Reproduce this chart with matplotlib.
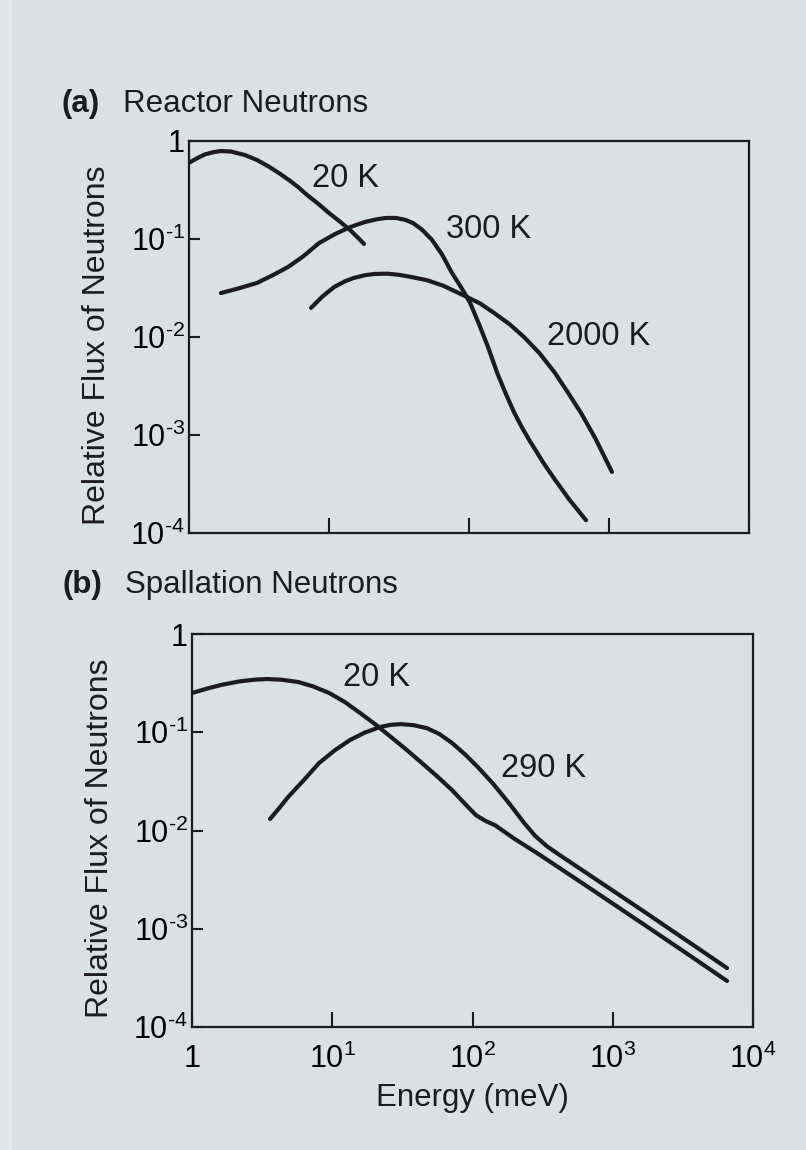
#!/usr/bin/env python3
# Relative neutron flux vs energy: (a) reactor, (b) spallation sources

import numpy as np
import matplotlib
matplotlib.use('Agg')
import matplotlib.pyplot as plt
from matplotlib.patches import Rectangle

plt.rcParams['font.family'] = ['Liberation Sans', 'DejaVu Sans']
plt.rcParams['mathtext.fontset'] = 'custom'
plt.rcParams['mathtext.rm'] = 'Liberation Sans'
plt.rcParams['mathtext.it'] = 'Liberation Sans:italic'
plt.rcParams['mathtext.bf'] = 'Liberation Sans:bold'

#==============================================================================
# data (energy in meV, relative flux)

# (a) reactor neutrons
a_20K_E = [1.0, 1.15, 1.3, 1.5, 1.69, 2.0, 2.5, 3.06, 3.7, 4.5, 5.3, 6.0,
           7.0, 8.5, 10, 12, 14.1, 16, 17.8]
a_20K_F = [0.60, 0.67, 0.73, 0.77, 0.79, 0.78, 0.72, 0.64, 0.55, 0.46, 0.39,
           0.34, 0.28, 0.225, 0.184, 0.150, 0.124, 0.104, 0.089]

a_300K_E = [1.69, 2.2, 3.06, 4.0, 5.1, 6.5, 8.5, 11, 14.1, 18, 22, 25.5, 30,
            35, 40, 46, 54.4, 64, 75.6, 88, 101.6, 118, 136.7, 160, 184, 210,
            240, 273, 340, 411, 520, 685]
a_300K_F = [0.0281, 0.031, 0.0356, 0.043, 0.0518, 0.066, 0.091, 0.112, 0.132,
            0.149, 0.159, 0.164, 0.164, 0.157, 0.145, 0.125, 0.098, 0.070,
            0.045, 0.032, 0.0225, 0.0135, 0.0079, 0.0042, 0.0026, 0.0017,
            0.00118, 0.00086, 0.00052, 0.00035, 0.00022, 0.000135]

a_2000K_E = [7.44, 9, 10.9, 13, 15, 18, 21.3, 26, 32, 38.5, 50, 65, 90.6, 120,
             151, 195, 247, 320, 411, 510, 631, 800, 1050]
a_2000K_F = [0.0198, 0.026, 0.0324, 0.037, 0.040, 0.0427, 0.044, 0.0443,
             0.043, 0.041, 0.038, 0.0335, 0.0268, 0.022, 0.0176, 0.0135,
             0.0100, 0.0068, 0.0043, 0.0027, 0.00168, 0.00092, 0.00042]

# (b) spallation neutrons
b_20K_E = [1.0, 1.3, 1.61, 2.2, 2.8, 3.43, 4.3, 5.7, 7.3, 9.5, 12.3, 15.8,
           20.5, 26.2, 34, 43.6, 56, 71.4, 88, 106, 124, 145, 200, 303, 700,
           1644, 3500, 6530]
b_20K_F = [0.251, 0.28, 0.303, 0.33, 0.343, 0.348, 0.343, 0.325, 0.293,
           0.251, 0.203, 0.157, 0.119, 0.0895, 0.066, 0.0486, 0.0356, 0.0258,
           0.0188, 0.0143, 0.0125, 0.0113, 0.0082, 0.00563, 0.00254, 0.00112,
           0.00054, 0.000294]

b_290K_E = [3.6, 4.2, 4.84, 6.2, 8.05, 10.5, 13.4, 17, 21.9, 26, 30.9, 38,
            47.4, 58, 71.4, 88, 109, 140, 182, 235, 280, 340, 420, 700, 1644,
            3500, 6530]
b_290K_F = [0.0131, 0.017, 0.0219, 0.032, 0.0486, 0.066, 0.0834, 0.099, 0.113,
            0.119, 0.121, 0.118, 0.110, 0.096, 0.0778, 0.060, 0.0443, 0.030,
            0.019, 0.0118, 0.0088, 0.0069, 0.0056, 0.00344, 0.00152, 0.00073,
            0.000398]

xticks = [1, 10, 100, 1000, 10000]
xticklabels = ['1', r'$\mathregular{10^{1}}$', r'$\mathregular{10^{2}}$',
               r'$\mathregular{10^{3}}$', r'$\mathregular{10^{4}}$']
yticks = [1e-4, 1e-3, 1e-2, 1e-1, 1]
yticklabels = [r'$\mathregular{10^{\text{-}4}}$', r'$\mathregular{10^{\text{-}3}}$',
               r'$\mathregular{10^{\text{-}2}}$', r'$\mathregular{10^{\text{-}1}}$', '1']

#==============================================================================
bg = '#d9e1e3'
ink = '#1c1c1e'
W, H = 806, 1150

fig = plt.figure(figsize=(W / 100, H / 100), dpi=100, facecolor=bg)
fig.patches.append(Rectangle((0, 0), 12 / W, 1, transform=fig.transFigure,
                             facecolor='#e2e8e9', edgecolor='none', zorder=0))


def setup(ax, show_xlabels):
    ax.set_facecolor(bg)
    ax.set_xscale('log')
    ax.set_yscale('log')
    ax.set_xlim(1, 1e4)
    ax.set_ylim(1e-4, 1)
    ax.minorticks_off()
    ax.set_xticks(xticks)
    ax.set_yticks(yticks)
    ax.set_yticklabels(yticklabels)
    if show_xlabels:
        ax.set_xticklabels(xticklabels)
    else:
        ax.set_xticklabels([])
    ax.tick_params(axis='x', direction='in', length=11, width=1.5,
                   color=ink, labelsize=22, pad=12, top=False)
    ax.tick_params(axis='y', direction='in', length=8, width=1.5,
                   color=ink, labelsize=22, pad=3, right=False)
    for s in ax.spines.values():
        s.set_linewidth(1.6)
        s.set_color(ink)
    ax.set_ylabel('Relative Flux of Neutrons', fontsize=23, color=ink)
    ax.yaxis.set_label_coords(-0.138, 0.48)


lw = 3.0
kw = dict(color=ink, linewidth=lw, solid_capstyle='round', solid_joinstyle='round')

# (a) Reactor Neutrons
ax1 = fig.add_axes([189 / W, 1 - 533 / H, 560 / W, 392 / H])
setup(ax1, False)
ax1.plot(a_20K_E, a_20K_F, **kw)
ax1.plot(a_300K_E, a_300K_F, **kw)
ax1.plot(a_2000K_E, a_2000K_F, **kw)
ax1.text(7.6, 0.41, '20 K', fontsize=23.5, color=ink, va='center')
ax1.text(68, 0.125, '300 K', fontsize=23.5, color=ink, va='center')
ax1.text(360, 0.0102, '2000 K', fontsize=23.5, color=ink, va='center')

# (b) Spallation Neutrons
ax2 = fig.add_axes([192 / W, 1 - 1027 / H, 561 / W, 393 / H])
setup(ax2, True)
ax2.plot(b_20K_E, b_20K_F, **kw)
ax2.plot(b_290K_E, b_290K_F, **kw)
ax2.text(12.0, 0.36, '20 K', fontsize=23.5, color=ink, va='center')
ax2.text(160, 0.043, '290 K', fontsize=23.5, color=ink, va='center')
ax2.set_xlabel('Energy (meV)', fontsize=22.5, color=ink, labelpad=6)

# panel titles
fig.text(61 / W, 1 - 112 / H, '(a)', fontsize=22.5, fontweight='bold', color=ink)
fig.text(123 / W, 1 - 112 / H, 'Reactor Neutrons', fontsize=22.5, color=ink)
fig.text(62 / W, 1 - 593 / H, '(b)', fontsize=22.5, fontweight='bold', color=ink)
fig.text(125 / W, 1 - 593 / H, 'Spallation Neutrons', fontsize=22.5, color=ink)

plt.savefig('out.png', dpi=100, facecolor=bg)
